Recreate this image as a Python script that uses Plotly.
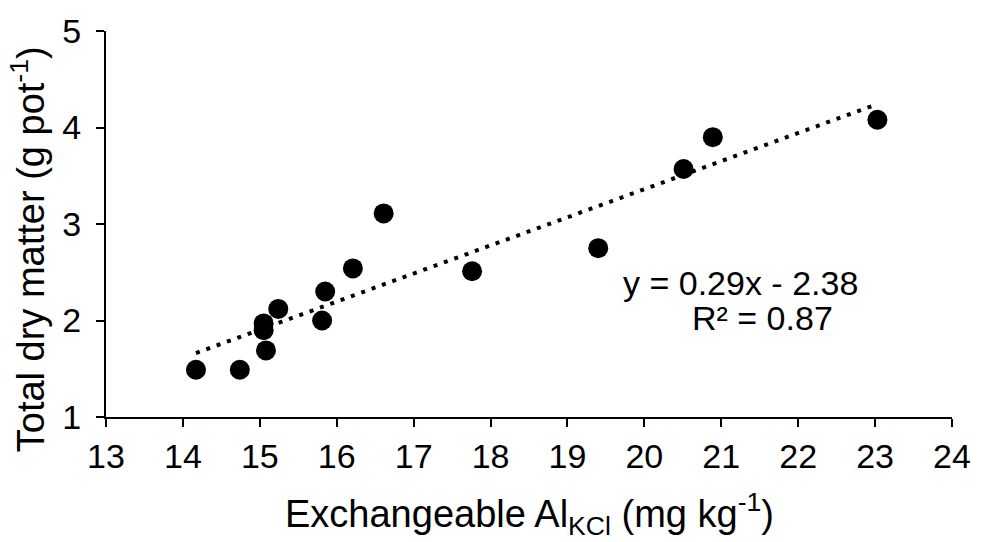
import numpy as np
import plotly.graph_objects as go

al_kcl = [14.17, 14.74, 15.05, 15.05, 15.08, 15.24, 15.81, 15.85, 16.21, 16.61, 17.76, 19.40, 20.51, 20.89, 23.03]
dry_matter = [1.49, 1.49, 1.97, 1.90, 1.69, 2.12, 2.00, 2.30, 2.54, 3.11, 2.51, 2.75, 3.57, 3.90, 4.08]
eq_line = "y = 0.29x - 2.38"
r2_line = "R² = 0.87"
x_title = "Exchangeable Al<sub>KCl</sub> (mg kg<sup>-1</sup>)"
y_title = "Total dry matter (g pot<sup>-1</sup>)"

x = np.array(al_kcl)
y = np.array(dry_matter)
slope, intercept = np.polyfit(x, y, 1)
tx = np.array([x.min(), x.max()])
ty = slope * tx + intercept

FONT = "Liberation Sans, Arial, sans-serif"

fig = go.Figure()
fig.add_trace(go.Scatter(
    x=tx, y=ty, mode="lines",
    line=dict(color="black", width=4, dash="4px,7px"),
    showlegend=False, hoverinfo="skip",
))
fig.add_trace(go.Scatter(
    x=al_kcl, y=dry_matter, mode="markers",
    marker=dict(color="black", size=20),
    showlegend=False,
))

fig.add_annotation(
    x=21.245, y=2.39, xref="x", yref="y",
    text=eq_line, showarrow=False,
    font=dict(family=FONT, size=34, color="black"),
    xanchor="center", yanchor="middle",
)
fig.add_annotation(
    x=21.53, y=2.025, xref="x", yref="y",
    text=r2_line, showarrow=False,
    font=dict(family=FONT, size=34, color="black"),
    xanchor="center", yanchor="middle",
)
fig.add_annotation(
    x=0.5, y=-0.252, xref="paper", yref="paper",
    text=x_title, showarrow=False,
    font=dict(family=FONT, size=38, color="black"),
    xanchor="center", yanchor="middle",
)
fig.add_annotation(
    x=-0.092, y=0.435, xref="paper", yref="paper",
    text=y_title, showarrow=False, textangle=-90,
    font=dict(family=FONT, size=38, color="black"),
    xanchor="center", yanchor="middle",
)

fig.update_layout(
    width=983, height=542,
    margin=dict(l=106, r=26, t=24, b=125),
    paper_bgcolor="white", plot_bgcolor="white",
    font=dict(family=FONT, color="black"),
)
fig.update_xaxes(
    range=[13, 24], tickmode="linear", tick0=13, dtick=1,
    showline=True, linecolor="black", linewidth=2,
    ticks="outside", ticklen=8, tickwidth=2, tickcolor="black",
    showgrid=False, zeroline=False,
    tickfont=dict(family=FONT, size=34, color="black"),
)
fig.update_yaxes(
    range=[1, 5], tickmode="linear", tick0=1, dtick=1,
    showline=True, linecolor="black", linewidth=2,
    ticks="outside", ticklen=8, tickwidth=2, tickcolor="black",
    showgrid=False, zeroline=False, ticklabelstandoff=8,
    tickfont=dict(family=FONT, size=34, color="black"),
)
fig.write_html("out.html")
